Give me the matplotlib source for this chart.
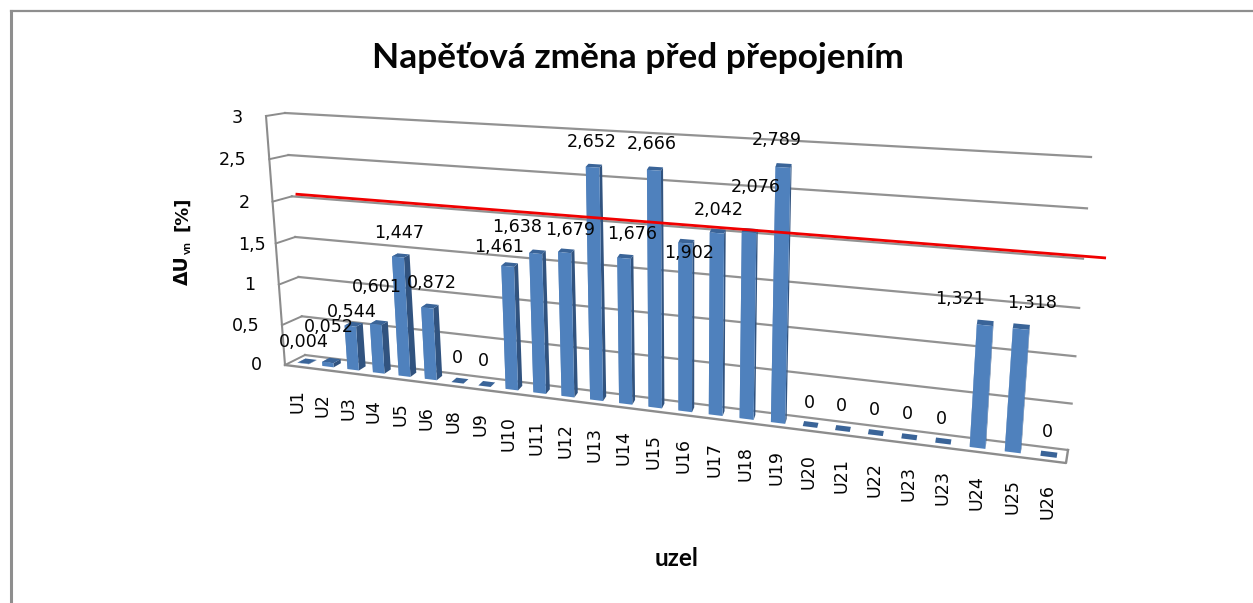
import numpy as np
import matplotlib
matplotlib.use("Agg")
import matplotlib.pyplot as plt
from matplotlib.transforms import Transform, Affine2D

# ---- data -------------------------------------------------------------
categories = ["U1", "U2", "U3", "U4", "U5", "U6", "U8", "U9", "U10", "U11", "U12", "U13", "U14",
              "U15", "U16", "U17", "U18", "U19", "U20", "U21", "U22", "U23", "U23", "U24", "U25", "U26"]
values = [0.004, 0.052, 0.544, 0.601, 1.447, 0.872, 0, 0, 1.461, 1.638, 1.679, 2.652, 1.676,
          2.666, 1.902, 2.042, 2.076, 2.789, 0, 0, 0, 0, 0, 1.321, 1.318, 0]
value_labels = ["0,004", "0,052", "0,544", "0,601", "1,447", "0,872", "0", "0", "1,461", "1,638",
                "1,679", "2,652", "1,676", "2,666", "1,902", "2,042", "2,076", "2,789", "0", "0",
                "0", "0", "0", "1,321", "1,318", "0"]
y_ticks = [0, 0.5, 1, 1.5, 2, 2.5, 3]
y_tick_labels = ["0", "0,5", "1", "1,5", "2", "2,5", "3"]
limit_x = [-0.35, 26.1]
limit_y = [2, 2]

# hand-placed label centres (px), as in the reference
label_px = [(304, 342), (329, 327), (352, 312), (377, 287), (399, 233), (432, 283), (457, 358),
            (483, 361), (499, 247), (517, 227), (570, 230), (592, 142), (632, 234), (652, 144),
            (689, 253), (719, 210), (756, 187), (777, 140), (809, 403), (841, 406), (874, 410),
            (907, 414), (941, 419), (960, 299), (1032, 303), (1047, 432)]
tick_px = [(256, 365), (246, 326), (250, 285), (252, 245), (244, 203), (233, 160), (237, 118)]

W, H = 1253, 603
plt.rcParams["font.family"] = ["DejaVu Sans"]
TEXT = "#050505"
GRID = "#8c8c8c"


def homography(src, dst):
    A, b = [], []
    for (x, y), (u, v) in zip(src, dst):
        A.append([x, y, 1, 0, 0, 0, -u * x, -u * y]); b.append(u)
        A.append([0, 0, 0, x, y, 1, -v * x, -v * y]); b.append(v)
    return np.append(np.linalg.solve(np.array(A, float), np.array(b, float)), 1).reshape(3, 3)


XL, XR, VT = -0.5, 25.5, 3.0
plane = [(XL, 0), (XR, 0), (XR, VT), (XL, VT)]
H_front = homography(plane, [(285, 365), (1066, 463), (1089, 170), (266, 116)])
H_back = homography(plane, [(305, 355), (1068, 450), (1091, 157), (285, 113)])
FORESHORTEN = 0.018


def project(x, v, d):
    """category position, value and floor depth (0 front .. 1 back) -> pixel"""
    x, v = np.asarray(x, float), np.asarray(v, float)
    u = (x - XL) / (XR - XL)
    x = XL + (XR - XL) * u / (1 + FORESHORTEN * (1 - u))
    p = np.stack([x, v, np.ones_like(x)], -1)
    f = p @ H_front.T
    b = p @ H_back.T
    f = f[..., :2] / f[..., 2:]
    b = b[..., :2] / b[..., 2:]
    return (1 - d) * f + d * b


class Perspective(Transform):
    input_dims = output_dims = 2
    has_inverse = False
    is_separable = False

    def __init__(self, floor_depth):
        super().__init__()
        self.floor_depth = floor_depth

    def transform_non_affine(self, values):
        values = np.asarray(values, float)
        return project(values[:, 0], values[:, 1], self.floor_depth)


fig = plt.figure(figsize=(W / 100, H / 100), dpi=100, facecolor="white")
ax = fig.add_axes([0, 0, 1, 1])
ax.set_autoscale_on(False)
ax.set_xlim(0, W)
ax.set_ylim(H, 0)
ax.axis("off")

# outer chart frame
ax.plot([10.5, W], [11, 11], color="#8e8e8e", lw=1.6)
ax.plot([10.5, 10.5], [10.5, H], color="#8e8e8e", lw=2.2)

# walls and gridlines
for v in y_ticks:
    back = project([XL, XR], [v, v], 1.0)
    ax.plot(back[:, 0], back[:, 1], color=GRID, lw=1.6, alpha=0.95, zorder=1)
    left = np.array([project(XL, v, 0.0), project(XL, v, 1.0)])
    ax.plot(left[:, 0], left[:, 1], color=GRID, lw=1.4, zorder=1)
edge = project([XL, XL], [0, VT], 0.0)
ax.plot(edge[:, 0], edge[:, 1], color=GRID, lw=1.5, zorder=1)
front = np.array([project(XL, 0, 0.0), project(XR, 0, 0.0), project(XR, 0, 1.0)])
ax.plot(front[:, 0], front[:, 1], color=GRID, lw=1.7, zorder=1)

# bars
half = 0.225
d0, d1 = 0.3, 0.7
pos = np.arange(len(values))
for i, v in zip(pos, values):
    for sx, col in ((-1, "#7096c6"), (1, "#31537f")):
        xs = i + sx * half
        quad = np.array([project(xs, 0, d0), project(xs, v, d0), project(xs, v, d1), project(xs, 0, d1)])
        ax.fill(quad[:, 0], quad[:, 1], color=col, lw=0, zorder=2)
    top = np.array([project(i - half, v, d0), project(i + half, v, d0),
                    project(i + half, v, d1), project(i - half, v, d1)])
    ax.fill(top[:, 0], top[:, 1], color="#3a6498", lw=0, zorder=3)
ax.bar(pos, values, width=2 * half, color="#4f81bd", linewidth=0,
       transform=Perspective(d0) + ax.transData, zorder=3)

# limit line
ax.plot(limit_x, limit_y, color="#f00000", lw=2.0, zorder=4, solid_capstyle="butt",
        transform=Perspective(1.0) + ax.transData + Affine2D().translate(0, 2.5))

# text
ax.text(638, 58, "Napěťová změna před přepojením", fontsize=25.4, fontweight="bold",
        family=["Lato", "DejaVu Sans"], color=TEXT, ha="center", va="center", zorder=6)
for (px, py), s in zip(label_px, value_labels):
    ax.text(px, py, s, fontsize=12.6, color=TEXT, ha="center", va="center", zorder=6)
for (px, py), s in zip(tick_px, y_tick_labels):
    ax.text(px, py, s, fontsize=12.6, color=TEXT, ha="center", va="center", zorder=6)
for i, s in zip(pos, categories):
    bx, by = project(i, 0, 0.0)
    ax.annotate(s, xy=(bx, by), xytext=(0, -23), textcoords="offset pixels", rotation=90,
                fontsize=12.6, color=TEXT, ha="center", va="top", zorder=6)

ax.text(182, 270, "ΔU", rotation=90, fontsize=13.5, fontweight="bold", color=TEXT,
        ha="center", va="center")
ax.text(187, 247.5, "vn", rotation=90, fontsize=8.5, fontweight="bold", family=["Lato", "DejaVu Sans"],
        color=TEXT, ha="center", va="center")
ax.text(182, 214, "[%]", rotation=90, fontsize=13, fontweight="bold", color=TEXT,
        ha="center", va="center")
ax.text(677, 558, "uzel", fontsize=17.5, fontweight="bold", family=["Lato", "DejaVu Sans"],
        color=TEXT, ha="center", va="center")

fig.savefig("out.png", dpi=100, facecolor="white")
